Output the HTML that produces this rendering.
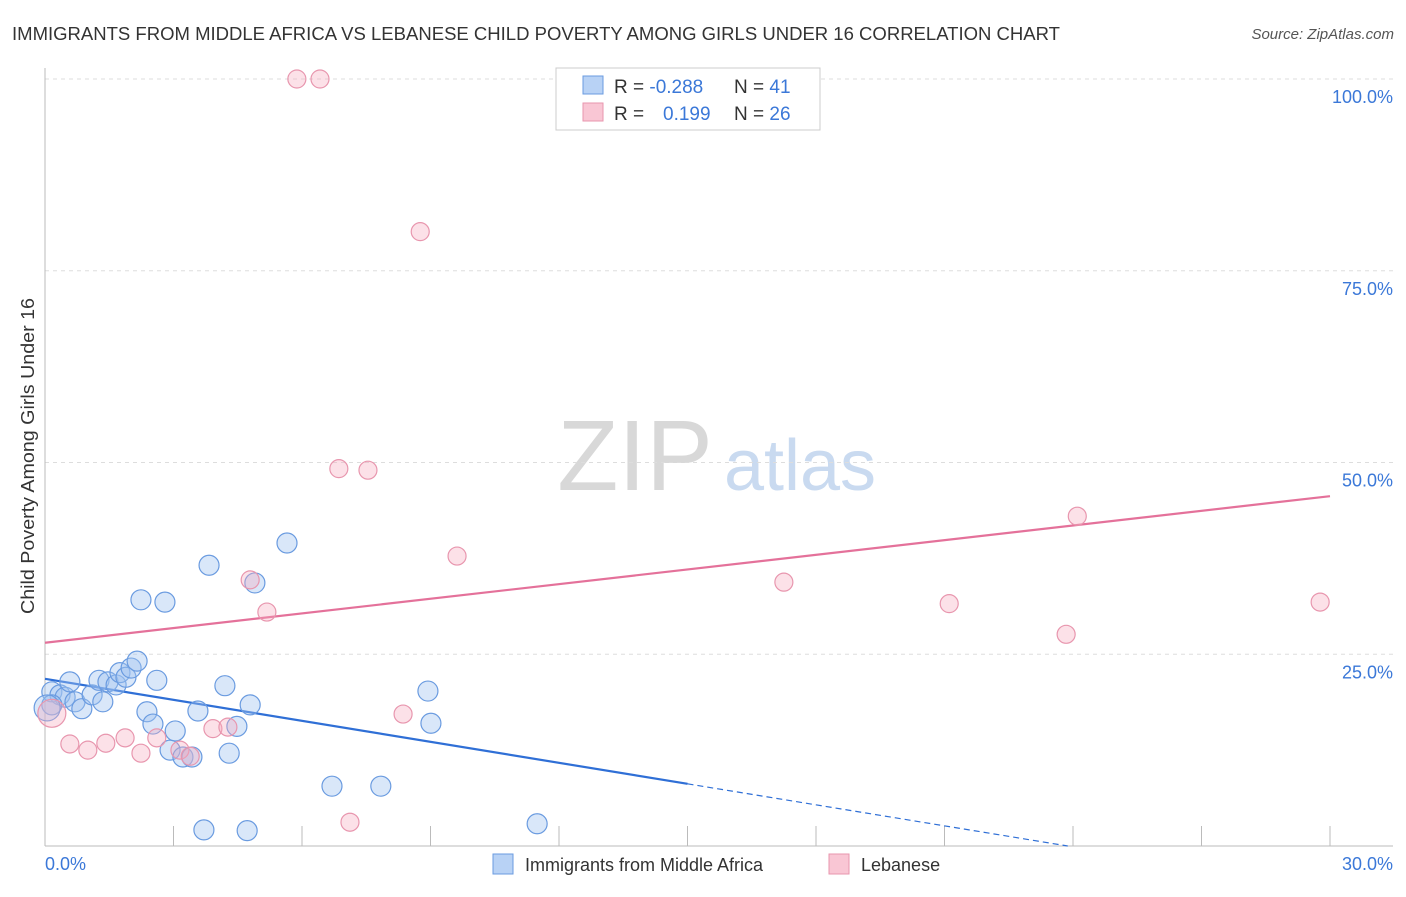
<!DOCTYPE html>
<html><head><meta charset="utf-8"><style>
body{margin:0;background:#fff;font-family:"Liberation Sans",sans-serif;}
svg text{font-family:"Liberation Sans",sans-serif;}
</style></head><body>
<svg id="chart" width="1406" height="892" viewBox="0 0 1406 892">
<text x="12" y="40" font-size="18" fill="#333" textLength="1048" lengthAdjust="spacingAndGlyphs">IMMIGRANTS FROM MIDDLE AFRICA VS LEBANESE CHILD POVERTY AMONG GIRLS UNDER 16 CORRELATION CHART</text>
<text x="1394" y="39" font-size="15" fill="#555" font-style="italic" text-anchor="end">Source: ZipAtlas.com</text>
<g>
<text x="635" y="490" font-size="100" fill="#d8d8d8" font-family="Liberation Serif" text-anchor="middle">ZIP</text>
<text x="800" y="490" font-size="72" fill="#c9daf0" text-anchor="middle">atlas</text>
</g>
<g id="grid"></g>
<line x1="45" y1="68" x2="45" y2="846" stroke="#bbb"/>
<line x1="45" y1="846" x2="1393" y2="846" stroke="#bbb"/>
<text x="28" y="456" font-size="18" fill="#333" text-anchor="middle" textLength="316" lengthAdjust="spacingAndGlyphs" transform="rotate(-90 28 456) translate(0 6)">Child Poverty Among Girls Under 16</text>
<text x="45" y="870" font-size="18" fill="#3b78d8">0.0%</text>
<text x="1393" y="870" font-size="18" fill="#3b78d8" text-anchor="end">30.0%</text>
<g id="lines"></g>
<g id="points"></g>
<g>
<rect x="556" y="68" width="264" height="62" fill="#fff" stroke="#ccc"/>
<rect x="583" y="76" width="20" height="18" fill="#b8d2f5" stroke="#6a9be0"/>
<rect x="583" y="103" width="20" height="18" fill="#f9c6d4" stroke="#e896ae"/>
<text x="614" y="93" font-size="19" fill="#333">R = <tspan fill="#3b78d8">-0.288</tspan></text>
<text x="734" y="93" font-size="19" fill="#333">N = <tspan fill="#3b78d8">41</tspan></text>
<text x="614" y="120" font-size="19" fill="#333">R = </text>
<text x="663" y="120" font-size="19" fill="#3b78d8">0.199</text>
<text x="734" y="120" font-size="19" fill="#333">N = <tspan fill="#3b78d8">26</tspan></text>
</g>
<g>
<rect x="493" y="854" width="20" height="20" fill="#b8d2f5" stroke="#6a9be0"/>
<text x="525" y="871" font-size="18" fill="#333">Immigrants from Middle Africa</text>
<rect x="829" y="854" width="20" height="20" fill="#f9c6d4" stroke="#e896ae"/>
<text x="861" y="871" font-size="18" fill="#333">Lebanese</text>
</g>
</svg>
<script>
const yTicks=[25,50,75,100];
const xTickCount=10;
const blueX=[0.16,0.35,0.47,0.58,0.70,0.86,1.10,1.26,1.35,1.47,1.66,1.75,1.89,2.01,2.15,2.24,2.38,2.52,2.61,2.80,2.92,3.04,3.22,3.43,3.57,3.71,3.83,4.20,4.30,4.48,4.72,4.79,4.90,5.65,6.70,7.84,8.94,9.01,11.49,0.16,0.05];
const blueY=[20.1,19.7,19.4,21.4,18.8,17.9,19.7,21.6,18.8,21.4,21.0,22.6,22.0,23.2,24.1,32.1,17.5,15.9,21.6,31.8,12.5,15.0,11.6,11.6,17.6,2.1,36.6,20.9,12.1,15.6,2.0,18.4,34.3,39.5,7.8,7.8,20.2,16.0,2.9,18.4,18.0];
const pinkX=[5.88,6.42,8.76,6.86,7.54,9.62,4.79,5.18,17.25,21.11,24.10,23.84,29.77,8.36,7.12,0.58,1.00,1.42,1.87,2.24,2.61,3.15,3.39,3.92,4.27,0.16];
const pinkY=[100,100,80.1,49.2,49.0,37.8,34.7,30.5,34.4,31.6,43.0,27.6,31.8,17.2,3.1,13.3,12.5,13.4,14.1,12.1,14.1,12.5,11.7,15.3,15.5,17.3];
const blueFit=[21.8,-0.913];
const pinkFit=[26.5,0.637];
const blueSolidEnd=15;
const NS="http://www.w3.org/2000/svg";
const sx=v=>45+v*(1285/30);
const sy=v=>846-v*(767/100);
function mk(tag,attrs,parent){const e=document.createElementNS(NS,tag);for(const k in attrs)e.setAttribute(k,attrs[k]);document.getElementById(parent).appendChild(e);return e;}
yTicks.forEach(t=>{
 const l=mk('line',{x1:45,x2:1393,y1:sy(t),y2:sy(t),stroke:'#ddd','stroke-dasharray':'4 4'},'grid');
 
 
 const tx=mk('text',{x:1393,y:sy(t)+24,'font-size':18,fill:'#3b78d8','text-anchor':'end'},'grid');
 tx.textContent=t.toFixed(1)+'%';
 
 
});
for(let i=1;i<=xTickCount;i++){
 const v=i*30/xTickCount;
 const l=mk('line',{x1:sx(v),x2:sx(v),y1:826,y2:846,stroke:'#bbb'},'grid');
 
 
}
blueX.forEach((x,i)=>{
 const c=mk('circle',{cx:sx(x),cy:sy(blueY[i]),r:i==40?13:10,fill:'rgba(160,195,240,0.4)',stroke:'#6a9be0','stroke-width':1.2},'points');
 
 
});
pinkX.forEach((x,i)=>{
 const c=mk('circle',{cx:sx(x),cy:sy(pinkY[i]),r:i==25?14:9,fill:'rgba(245,170,190,0.35)',stroke:'#e896ae','stroke-width':1.2},'points');
 
 
});
const bf=x=>blueFit[0]+blueFit[1]*x;
let l=mk('line',{x1:sx(0),y1:sy(bf(0)),x2:sx(blueSolidEnd),y2:sy(bf(blueSolidEnd)),stroke:'#2f6fd6','stroke-width':2.2},'lines');


const zx=Math.min(30,-blueFit[0]/blueFit[1]);
l=mk('line',{x1:sx(blueSolidEnd),y1:sy(bf(blueSolidEnd)),x2:sx(zx),y2:sy(Math.max(0,bf(zx))),stroke:'#2f6fd6','stroke-width':1.2,'stroke-dasharray':'6 4'},'lines');


const pf=x=>pinkFit[0]+pinkFit[1]*x;
l=mk('line',{x1:sx(0),y1:sy(pf(0)),x2:sx(30),y2:sy(pf(30)),stroke:'#e4719a','stroke-width':2.2},'lines');


</script>
</body></html>
